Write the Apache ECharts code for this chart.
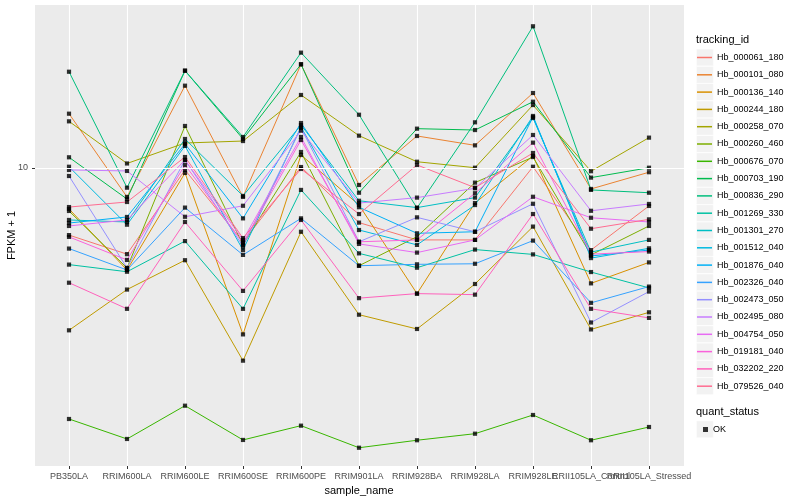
<!DOCTYPE html>
<html><head><meta charset="utf-8">
<script src="https://cdn.jsdelivr.net/npm/echarts@6/dist/echarts.min.js"></script>
<style>html,body{margin:0;padding:0;background:#fff}#c{width:800px;height:500px}</style>
</head><body><div id="c"></div>
<script>
const categories = ['PB350LA','RRIM600LA','RRIM600LE','RRIM600SE','RRIM600PE','RRIM901LA','RRIM928BA','RRIM928LA','RRIM928LE','RRII105LA_Control','RRII105LA_Stressed'];
const trackingIds = ['Hb_000061_180','Hb_000101_080','Hb_000136_140','Hb_000244_180','Hb_000258_070','Hb_000260_460','Hb_000676_070','Hb_000703_190','Hb_000836_290','Hb_001269_330','Hb_001301_270','Hb_001512_040','Hb_001876_040','Hb_002326_040','Hb_002473_050','Hb_002495_080','Hb_004754_050','Hb_019181_040','Hb_032202_220','Hb_079526_040'];
const yTickValues = [10];

const hb_000061_180 = [6.17, 5.38, 9.86, 5.87, 10.07, 6.75, 5.96, 5.96, 10.09, 5.54, 7.61];
const hb_000101_080 = [14.78, 8.12, 18.08, 8.12, 21.09, 8.85, 12.59, 11.77, 17.15, 8.60, 9.70];
const hb_000136_140 = [7.45, 4.80, 9.65, 3.02, 10.98, 7.66, 4.05, 7.77, 10.90, 4.36, 5.07];
const hb_000244_180 = [3.11, 4.17, 5.15, 2.50, 6.32, 3.48, 3.14, 4.34, 6.56, 3.13, 3.54];
const hb_000258_070 = [13.99, 10.33, 11.97, 12.14, 16.91, 12.62, 10.46, 10.02, 15.73, 9.77, 12.44];
const hb_000260_460 = [7.34, 4.87, 13.53, 5.75, 11.22, 4.95, 6.10, 9.00, 10.82, 5.35, 6.59];
const hb_000676_070 = [1.643, 1.423, 1.808, 1.413, 1.566, 1.336, 1.410, 1.478, 1.691, 1.410, 1.551];
const hb_000703_190 = [10.80, 8.00, 20.14, 12.32, 21.09, 8.37, 13.27, 13.14, 16.11, 9.33, 10.02];
const hb_000836_290 = [19.99, 8.68, 20.14, 12.50, 22.93, 14.67, 7.50, 13.89, 27.72, 8.54, 8.37];
const hb_001269_330 = [4.99, 4.74, 5.91, 3.63, 8.54, 5.41, 4.88, 5.56, 5.37, 4.73, 4.22];
const hb_001301_270 = [6.88, 6.78, 12.32, 8.18, 13.63, 7.90, 7.52, 8.08, 14.33, 5.46, 5.96];
const hb_001512_040 = [10.09, 6.65, 11.72, 5.54, 13.43, 6.40, 5.75, 7.66, 14.54, 5.23, 5.61];
const hb_001876_040 = [6.73, 7.03, 11.89, 6.96, 13.82, 7.54, 6.25, 6.32, 14.43, 5.31, 5.54];
const hb_002326_040 = [5.60, 4.80, 7.52, 5.35, 6.96, 4.95, 5.00, 5.02, 5.93, 3.79, 4.26];
const hb_002473_050 = [9.44, 4.87, 10.59, 5.70, 13.34, 5.88, 7.01, 6.32, 7.73, 3.29, 4.11];
const hb_002495_080 = [9.86, 9.79, 7.04, 7.62, 13.08, 7.77, 8.08, 8.64, 12.68, 7.35, 7.72];
const hb_004754_050 = [6.59, 6.88, 10.59, 5.96, 12.50, 5.79, 5.44, 5.96, 8.13, 6.99, 6.78];
const hb_019181_040 = [6.09, 5.16, 10.22, 5.83, 12.23, 5.88, 5.96, 8.34, 12.00, 5.38, 5.48];
const hb_032202_220 = [4.38, 3.63, 6.78, 4.13, 6.88, 3.92, 4.05, 4.02, 7.18, 3.63, 3.40];
const hb_079526_040 = [7.55, 7.83, 10.82, 6.04, 9.93, 7.18, 10.22, 8.68, 11.14, 6.46, 6.91];

const seriesValues = [hb_000061_180, hb_000101_080, hb_000136_140, hb_000244_180, hb_000258_070, hb_000260_460, hb_000676_070, hb_000703_190, hb_000836_290, hb_001269_330, hb_001301_270, hb_001512_040, hb_001876_040, hb_002326_040, hb_002473_050, hb_002495_080, hb_004754_050, hb_019181_040, hb_032202_220, hb_079526_040];

const palette = ['#F8766D','#EA8331','#D89000','#C09B00','#A3A500','#7CAE00','#39B600','#00BB4E','#00BF7D','#00C1A3','#00BFC4','#00BAE0','#00B0F6','#35A2FF','#9590FF','#C77CFF','#E76BF3','#FA62DB','#FF62BC','#FF6C91'];
const FONT = '"Liberation Sans", Arial, Helvetica, sans-serif';
const axisMin = 1.1715, axisMax = 32.31;

const chart = echarts.init(document.getElementById('c'), null, {renderer: 'canvas'});

const lineSeries = trackingIds.map((id, k) => ({
  name: id, type: 'line', xAxisIndex: 1, yAxisIndex: 1,
  data: seriesValues[k], showSymbol: false, symbol: 'none',
  lineStyle: {width: 1, color: palette[k]}, itemStyle: {color: palette[k]},
  silent: true, clip: false, z: 2
}));
const pointData = [];
seriesValues.forEach(vals => vals.forEach((v, i) => pointData.push([categories[i], v])));

// grey legend key boxes (ggplot style)
const keyBoxes = [];
const KEY = 17.3, KEY_TOP = 48.7;
trackingIds.forEach((id, k) => keyBoxes.push({
  type: 'rect', left: 696, top: KEY_TOP + k * KEY, z: -1, silent: true,
  shape: {width: 17, height: 17}, style: {fill: '#F2F2F2', stroke: '#fff', lineWidth: 0.6}
}));
keyBoxes.push({type: 'rect', left: 696, top: 420.5, z: -1, silent: true,
  shape: {width: 17, height: 17}, style: {fill: '#F2F2F2', stroke: '#fff', lineWidth: 0.6}});

const option = {
  animation: false,
  textStyle: {fontFamily: FONT},
  graphic: keyBoxes,
  title: [
    {text: 'tracking_id', left: 696, top: 34, padding: 0, textStyle: {fontSize: 11, fontWeight: 'normal', color: '#000', fontFamily: FONT}},
    {text: 'quant_status', left: 696, top: 406, padding: 0, textStyle: {fontSize: 11, fontWeight: 'normal', color: '#000', fontFamily: FONT}}
  ],
  grid: [
    {left: 35, right: 116, top: 5, bottom: 34, show: true, backgroundColor: '#EBEBEB', borderWidth: 0, containLabel: false, outerBoundsMode: 'none'},
    {left: 69, right: 151, top: 5, bottom: 34, containLabel: false, outerBoundsMode: 'none'}
  ],
  xAxis: [
    {type: 'value', gridIndex: 0, show: false, min: 0, max: 1},
    {type: 'category', gridIndex: 1, data: categories, boundaryGap: false,
     axisLine: {show: false},
     axisTick: {show: true, length: 3, lineStyle: {color: '#333'}},
     axisLabel: {interval: 0, color: '#4D4D4D', fontSize: 9, fontFamily: FONT, margin: 6},
     splitLine: {show: true, lineStyle: {color: '#fff', width: 1.1}},
     name: 'sample_name', nameLocation: 'middle', nameGap: 19,
     nameTextStyle: {color: '#000', fontSize: 11, fontFamily: FONT}}
  ],
  yAxis: [
    {type: 'log', gridIndex: 0, min: axisMin, max: axisMax,
     axisLine: {show: false},
     axisTick: {show: true, customValues: yTickValues, length: 3, lineStyle: {color: '#333'}},
     axisLabel: {customValues: yTickValues, color: '#4D4D4D', fontSize: 9, fontFamily: FONT, margin: 7},
     splitLine: {show: false},
     name: 'FPKM + 1', nameLocation: 'middle', nameGap: 18, nameMoveOverlap: false,
     nameTextStyle: {color: '#000', fontSize: 11, fontFamily: FONT}},
    {type: 'log', gridIndex: 1, min: axisMin, max: axisMax, show: false}
  ],
  legend: [
    {data: trackingIds.map((id, k) => ({name: id, itemStyle: {color: palette[k]}})),
     orient: 'vertical', left: 697, top: 49, icon: 'rect', itemWidth: 15, itemHeight: 1.5, itemGap: 0.3,
     selectedMode: false, padding: 0,
     textStyle: {fontSize: 9, lineHeight: 17, color: '#000', fontFamily: FONT}},
    {data: ['OK'], orient: 'vertical', left: 703, top: 421, icon: 'rect', itemWidth: 5, itemHeight: 5,
     selectedMode: false, padding: 0,
     textStyle: {fontSize: 9, lineHeight: 17, color: '#000', fontFamily: FONT}}
  ],
  series: [{
    name: 'grid10', type: 'line', xAxisIndex: 0, yAxisIndex: 0, data: [], silent: true, z: 1,
    markLine: {silent: true, symbol: 'none', label: {show: false},
      lineStyle: {color: '#fff', width: 1.1, type: 'solid'},
      data: yTickValues.map(v => ({yAxis: v}))}
  }].concat(lineSeries).concat([{
    name: 'OK', type: 'scatter', xAxisIndex: 1, yAxisIndex: 1, data: pointData,
    symbol: 'rect', symbolSize: 4.2, itemStyle: {color: '#000'}, silent: true, clip: false, z: 3
  }])
};
chart.setOption(option);
</script></body></html>
